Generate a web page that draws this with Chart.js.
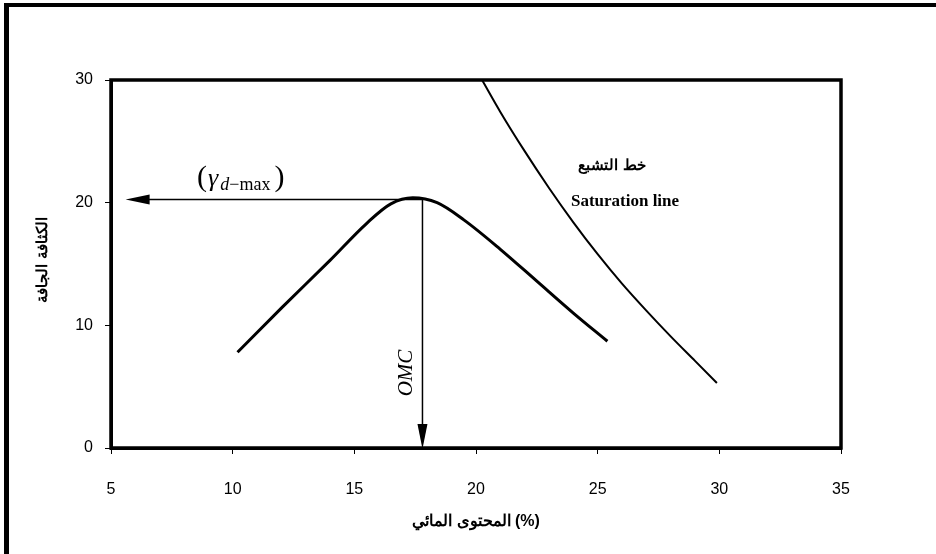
<!DOCTYPE html>
<html>
<head>
<meta charset="utf-8">
<script src="https://cdn.jsdelivr.net/npm/chart.js@4.4.1/dist/chart.umd.min.js"></script>
<style>
  html, body { margin: 0; padding: 0; background: #fff; }
</style>
</head>
<body>
<canvas id="chart" width="936" height="554"></canvas>
<script>
// compaction curve (water content %, dry density)
const compX = [10.2, 12, 14, 15.5, 16.5, 17.4, 18.4, 19.5, 21, 22.5, 24, 25.4];
const compY = [7.8, 11.4, 15.3, 18.3, 19.9, 20.4, 20.0, 18.6, 16.2, 13.6, 11.0, 8.7];

// saturation line
const satX = [20.25, 21, 22, 23, 24, 25, 26, 27, 28, 29, 29.9];
const satY = [30, 27.4, 24.2, 21.2, 18.4, 15.8, 13.4, 11.2, 9.1, 7.1, 5.3];

const xTicks = [5, 10, 15, 20, 25, 30, 35];
const yTicks = [0, 10, 20, 30];

const gammaMax = 20.25;
const omc = 17.8;
const arrowTipX = 5.6;

const xTitle = "المحتوى المائي (%)";
const yTitle = "الكثافة الجافة";
const satTitleAr = "خط التشبع";
const satTitleEn = "Saturation line";

function toPoints(xs, ys) {
  return xs.map((x, i) => ({ x: x, y: ys[i] }));
}

function arrowHead(ctx, x, y, dir, len, half) {
  ctx.beginPath();
  if (dir === "left") {
    ctx.moveTo(x, y);
    ctx.lineTo(x + len, y - half);
    ctx.lineTo(x + len, y + half);
  } else {
    ctx.moveTo(x, y);
    ctx.lineTo(x - half, y - len);
    ctx.lineTo(x + half, y - len);
  }
  ctx.closePath();
  ctx.fill();
}

const extras = {
  id: "extras",
  afterDatasetsDraw(chart) {
    const ctx = chart.ctx;
    const xs = chart.scales.x, ys = chart.scales.y;
    const a = chart.chartArea;
    ctx.save();
    ctx.fillStyle = "#000";
    ctx.strokeStyle = "#000";

    // outer frame (left and top edges)
    ctx.fillRect(4, 3, 5, 551);
    ctx.fillRect(4, 3, 932, 4);

    // plot box
    ctx.lineWidth = 3.5;
    ctx.strokeRect(a.left, a.top, a.right - a.left, a.bottom - a.top);

    // gamma max arrow
    const gy = ys.getPixelForValue(gammaMax);
    const gx0 = xs.getPixelForValue(arrowTipX);
    const gx1 = xs.getPixelForValue(omc);
    ctx.lineWidth = 1.5;
    ctx.beginPath();
    ctx.moveTo(gx1, gy);
    ctx.lineTo(gx0 + 20, gy);
    ctx.stroke();
    arrowHead(ctx, gx0, gy, "left", 24, 5);

    // OMC arrow
    const oy1 = ys.getPixelForValue(0);
    ctx.beginPath();
    ctx.moveTo(gx1, gy);
    ctx.lineTo(gx1, oy1 - 20);
    ctx.stroke();
    arrowHead(ctx, gx1, oy1 + 1, "down", 25, 5);

    // gamma label
    ctx.textBaseline = "alphabetic";
    ctx.textAlign = "left";
    let lx = 197, ly = 186;
    ctx.font = "30px 'Liberation Serif'";
    ctx.fillText("(", lx, ly);
    lx += ctx.measureText("(").width + 1;
    ctx.font = "italic 26px 'Liberation Serif'";
    ctx.fillText("γ", lx, ly);
    lx += ctx.measureText("γ").width + 2;
    ctx.font = "italic 18px 'Liberation Serif'";
    ctx.fillText("d", lx, ly + 4);
    lx += ctx.measureText("d").width;
    ctx.font = "18px 'Liberation Serif'";
    ctx.fillText("−max", lx, ly + 4);
    lx += ctx.measureText("−max").width + 4;
    ctx.font = "30px 'Liberation Serif'";
    ctx.fillText(")", lx, ly);

    // OMC label
    ctx.save();
    ctx.translate(412, 373);
    ctx.rotate(-Math.PI / 2);
    ctx.textAlign = "center";
    ctx.font = "italic 21px 'Liberation Serif'";
    ctx.fillText("OMC", 0, 0);
    ctx.restore();

    // saturation labels
    ctx.textAlign = "center";
    ctx.font = "bold 15px 'Liberation Sans'";
    ctx.fillText(satTitleAr, 612, 170);
    ctx.font = "bold 17px 'Liberation Serif'";
    ctx.fillText(satTitleEn, 625, 206);

    // axis titles
    ctx.font = "bold 16px 'Liberation Sans'";
    ctx.fillText(xTitle, 476, 526);
    ctx.save();
    ctx.translate(47, 260);
    ctx.rotate(-Math.PI / 2);
    ctx.font = "bold 15px 'Liberation Sans'";
    ctx.fillText(yTitle, 0, 0);
    ctx.restore();

    ctx.restore();
  }
};

new Chart(document.getElementById("chart"), {
  type: "scatter",
  data: {
    datasets: [
      {
        label: "compaction",
        data: toPoints(compX, compY),
        showLine: true,
        borderColor: "#000",
        borderWidth: 3,
        pointRadius: 0,
        cubicInterpolationMode: "monotone"
      },
      {
        label: "saturation",
        data: toPoints(satX, satY),
        showLine: true,
        borderColor: "#000",
        borderWidth: 2,
        pointRadius: 0,
        cubicInterpolationMode: "monotone"
      }
    ]
  },
  options: {
    responsive: false,
    animation: false,
    devicePixelRatio: 1,
    layout: { padding: { top: 80, right: 95, left: 0, bottom: 0 } },
    plugins: { legend: { display: false }, tooltip: { enabled: false } },
    scales: {
      x: {
        type: "linear",
        min: 5, max: 35,
        afterBuildTicks: (s) => { s.ticks = xTicks.map(v => ({ value: v })); },
        afterFit: (s) => { s.height = 106; },
        ticks: { color: "#000", font: { family: "'Liberation Sans', Arial", size: 16 }, padding: 26, maxRotation: 0 },
        grid: { drawOnChartArea: false, drawTicks: true, tickLength: 6, color: "#000", lineWidth: 1 },
        border: { display: true, color: "#000", width: 3 }
      },
      y: {
        type: "linear",
        min: 0, max: 30,
        afterBuildTicks: (s) => { s.ticks = yTicks.map(v => ({ value: v })); },
        afterFit: (s) => { s.width = 111; },
        ticks: { color: "#000", font: { family: "'Liberation Sans', Arial", size: 16 }, padding: 12 },
        grid: { drawOnChartArea: false, drawTicks: true, tickLength: 6, color: "#000", lineWidth: 1 },
        border: { display: true, color: "#000", width: 3 }
      }
    }
  },
  plugins: [extras]
});
</script>
</body>
</html>
